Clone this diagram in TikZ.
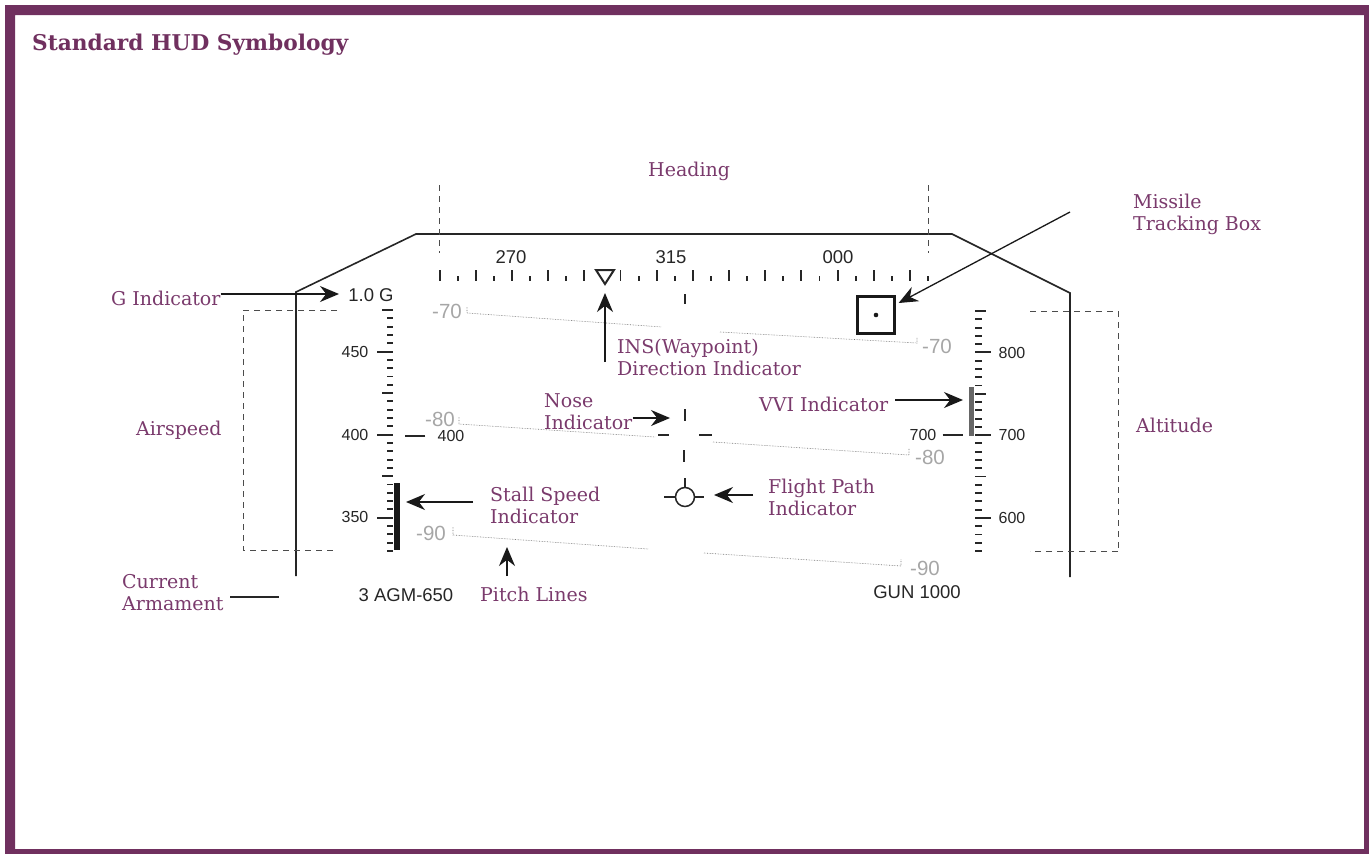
\documentclass[tikz,border=0pt]{standalone}
\usepackage{fontspec}
\setmainfont{DejaVu Serif}
\newfontfamily\hudsans{Liberation Sans}
\usetikzlibrary{arrows.meta}
\definecolor{hudpurple}{HTML}{70305F}
\definecolor{hudtext}{HTML}{7A3A6C}
\tikzset{
  hudlabel/.style={text=hudtext,inner sep=0pt,anchor=west,align=left,font=\fontsize{19}{22}\selectfont},
  readout/.style={inner sep=0pt,font=\hudsans\fontsize{16}{18}\selectfont,text=black!85},
  bigreadout/.style={inner sep=0pt,font=\hudsans\fontsize{18.5}{20}\selectfont,text=black!85},
  pitchnum/.style={inner sep=0pt,font=\hudsans\fontsize{20.5}{22}\selectfont,text=black!35},
  pitchline/.style={draw=black!55,line width=0.6pt,densely dotted},
  hudline/.style={draw=black!85,line width=1.6pt},
  hudtick/.style={draw=black!85,line width=1.9pt},
  bracket/.style={draw=black!70,line width=0.7pt,dash pattern=on 6pt off 5pt},
  callout/.style={draw=black!90,line width=1.3pt,-{Stealth[length=19pt,width=16pt]}}
}
\begin{document}
\begin{tikzpicture}[x=1pt,y=-1pt]
\useasboundingbox (0,0) rectangle (1369,854);
\fill[hudpurple,even odd rule] (5,5) rectangle (1369,854) (15,15) rectangle (1364,849);
\node[hudlabel,text=hudpurple,font=\bfseries\fontsize{21.7}{24}\selectfont] (title) at (32,45) {Standard HUD Symbology};
% HUD outline
\draw[hudline] (296,576) -- (296,292) -- (416,234) -- (952,234) -- (1070,293) -- (1070,577);
\draw[bracket] (439,185) -- (439,253);
\draw[bracket] (928,185) -- (928,253);
\draw[bracket] (337,310) -- (243,310) -- (243,550) -- (337,550);
\draw[bracket] (1118,551) -- (1030,551);
\draw[bracket] (1030,311) -- (1118,311) -- (1118,551);
% heading tape
\draw[hudtick] (439.6,270) -- (439.6,281) (475.8,270) -- (475.8,281) (512,270) -- (512,281) (548.1,270) -- (548.1,281) (584.3,270) -- (584.3,281);
\draw[hudtick] (620.5,270) -- (620.5,281) (656.7,270) -- (656.7,281) (692.9,270) -- (692.9,281) (729,270) -- (729,281) (765.2,270) -- (765.2,281);
\draw[hudtick] (801.4,270) -- (801.4,281) (837.6,270) -- (837.6,281) (873.8,270) -- (873.8,281) (909.9,270) -- (909.9,281);
\draw[hudtick] (457.7,276) -- (457.7,281) (493.9,276) -- (493.9,281) (530,276) -- (530,281) (566.2,276) -- (566.2,281) (638.6,276) -- (638.6,281);
\draw[hudtick] (674.8,276) -- (674.8,281) (710.9,276) -- (710.9,281) (747.1,276) -- (747.1,281) (783.3,276) -- (783.3,281) (819.5,276) -- (819.5,281);
\draw[hudtick] (855.7,276) -- (855.7,281) (891.8,276) -- (891.8,281) (928,276) -- (928,281);
\node[bigreadout] (h270) at (511,257) {270};
\node[bigreadout] (h315) at (671,257) {315};
\node[bigreadout] (h000) at (838,257) {000};
\coordinate (waypoint) at (605,284);
\draw[draw=black!85,line width=2pt,line join=miter] (596,270) -- (614,270) -- (waypoint) -- cycle;
\draw[hudtick] (685,294) -- (685,304);
\node[draw=black!90,line width=3pt,minimum size=37pt,inner sep=0pt] (trackbox) at (876,315) {};
\fill[black!90] (trackbox.center) circle (2.3);
% airspeed tape
\draw[hudtick] (382,310) -- (393,310) (387,318.3) -- (393,318.3) (387,326.6) -- (393,326.6) (387,334.9) -- (393,334.9) (387,343.2) -- (393,343.2);
\draw[hudtick] (377,351.6) -- (393,351.6) (387,359.9) -- (393,359.9) (387,368.2) -- (393,368.2) (387,376.5) -- (393,376.5) (387,384.8) -- (393,384.8);
\draw[hudtick] (382,393.1) -- (393,393.1) (387,401.4) -- (393,401.4) (387,409.7) -- (393,409.7) (387,418) -- (393,418) (387,426.3) -- (393,426.3);
\draw[hudtick] (377,434.7) -- (393,434.7) (387,443) -- (393,443) (387,451.3) -- (393,451.3) (387,459.6) -- (393,459.6) (387,467.9) -- (393,467.9);
\draw[hudtick] (382,476.2) -- (393,476.2) (387,484.5) -- (393,484.5) (387,492.8) -- (393,492.8) (387,501.1) -- (393,501.1) (387,509.4) -- (393,509.4);
\draw[hudtick] (377,517.8) -- (393,517.8) (387,526.1) -- (393,526.1) (387,534.4) -- (393,534.4) (387,542.7) -- (393,542.7) (387,551) -- (393,551);
\fill[black!90] (394,483) rectangle (400,550);
\node[bigreadout] (gload) at (371,295) {1.0 G};
\node[readout] (as450) at (355,352) {450};
\node[readout] (as400) at (355,435) {400};
\node[readout] (as350) at (355,517) {350};
\node[readout] (cas) at (451,436) {400};
\draw[hudline] (cas.west) ++(-12,0) -- (405,436);
% altitude tape
\draw[hudtick] (975,311) -- (986,311) (975,319.3) -- (982,319.3) (975,327.6) -- (982,327.6) (975,335.8) -- (982,335.8) (975,344.1) -- (982,344.1);
\draw[hudtick] (975,352.4) -- (991,352.4) (975,360.7) -- (982,360.7) (975,368.9) -- (982,368.9) (975,377.2) -- (982,377.2) (975,385.5) -- (982,385.5);
\draw[hudtick] (975,393.8) -- (986,393.8) (975,402) -- (982,402) (975,410.3) -- (982,410.3) (975,418.6) -- (982,418.6) (975,426.9) -- (982,426.9);
\draw[hudtick] (975,435.1) -- (991,435.1) (975,443.4) -- (982,443.4) (975,451.7) -- (982,451.7) (975,460) -- (982,460) (975,468.2) -- (982,468.2);
\draw[hudtick] (975,476.5) -- (986,476.5) (975,484.8) -- (982,484.8) (975,493.1) -- (982,493.1) (975,501.3) -- (982,501.3) (975,509.6) -- (982,509.6);
\draw[hudtick] (975,517.9) -- (991,517.9) (975,526.2) -- (982,526.2) (975,534.5) -- (982,534.5) (975,542.7) -- (982,542.7) (975,551) -- (982,551);
\fill[black!60] (969,387) rectangle (973.5,436);
\node[readout] (alt800) at (1012,353) {800};
\node[readout] (alt700) at (1012,435) {700};
\node[readout] (alt600) at (1012,518) {600};
\node[readout] (vvi) at (923,435) {700};
\draw[hudline] (vvi.east) ++(6,0) -- (963,435);
\node[bigreadout] (armament) at (406,595) {3 AGM-650};
\node[bigreadout] (gun) at (917,592) {GUN 1000};
% nose and flight path
\draw[hudtick] (685,409) -- (685,421);
\draw[hudtick] (658,435) -- (669,435);
\draw[hudtick] (699,435) -- (712,435);
\draw[hudtick] (684,450) -- (684,462);
\node[circle,draw=black!85,line width=1.5pt,minimum size=19pt,inner sep=0pt] (fpm) at (685,497) {};
\draw[hudline] (fpm.west) -- (664,497);
\draw[hudline] (fpm.east) -- (704,497);
\draw[hudline] (fpm.north) -- (685,478);
% pitch lines
\node[pitchnum] (p70l) at (447,311) {-70};
\draw[pitchline] (467,307) -- (467,313) -- (662,327);
\draw[pitchline] (720,332) -- (917,343) -- (917,337);
\node[pitchnum] (p70r) at (937,346) {-70};
\node[pitchnum] (p80l) at (440,419) {-80};
\draw[pitchline] (459,417) -- (459,424) -- (655,437);
\draw[pitchline] (713,442) -- (909,455) -- (909,448);
\node[pitchnum] (p80r) at (930,457) {-80};
\node[pitchnum] (p90l) at (431,533) {-90};
\draw[pitchline] (453,527) -- (453,535) -- (648,549);
\draw[pitchline] (704,553) -- (901,566) -- (901,559);
\node[pitchnum] (p90r) at (925,568) {-90};
% labels
\node[hudlabel] (heading) at (648,171) {Heading};
\node[hudlabel] (ginfo) at (111,298) {G Indicator};
\node[hudlabel] (airspeed) at (136,430) {Airspeed};
\node[hudlabel] (current) at (122,593) {Current\\Armament};
\node[hudlabel] (altitude) at (1136,425) {Altitude};
\node[hudlabel] (missile) at (1133,214) {Missile\\Tracking Box};
\node[hudlabel] (ins) at (617,357) {INS(Waypoint)\\Direction Indicator};
\node[hudlabel] (nose) at (544,412) {Nose\\Indicator};
\node[hudlabel] (vvilabel) at (759,404) {VVI Indicator};
\node[hudlabel] (stall) at (490,505) {Stall Speed\\Indicator};
\node[hudlabel] (flight) at (768,497) {Flight Path\\Indicator};
\node[hudlabel] (pitch) at (480,594) {Pitch Lines};
% callouts
\coordinate (gtip) at (339,294);
\draw[callout] (ginfo.east |- gtip) -- (gtip);
\draw[hudline,line width=2.2pt] (230,597) -- (279,597);
\coordinate (misstail) at (1070,212);
\draw[callout,shorten >=3pt] (misstail) -- (trackbox);
\coordinate (instip) at (605,293);
\coordinate (instail) at (605,362);
\draw[callout] (instail) -- (instip);
\coordinate (nosetip) at (670,418);
\draw[callout] (nose.east |- nosetip) -- (nosetip);
\coordinate (vvitail) at (895,400);
\coordinate (vvitip) at (963,400);
\draw[callout] (vvitail) -- (vvitip);
\coordinate (stalltail) at (473,502);
\coordinate (stalltip) at (406,502);
\draw[callout] (stalltail) -- (stalltip);
\coordinate (fpmtail) at (753,495);
\coordinate (fpmtip) at (714,495);
\draw[callout] (fpmtail) -- (fpmtip);
\coordinate (pitchtail) at (507,576);
\coordinate (pitchtip) at (507,547);
\draw[callout] (pitchtail) -- (pitchtip);
\end{tikzpicture}
\end{document}
